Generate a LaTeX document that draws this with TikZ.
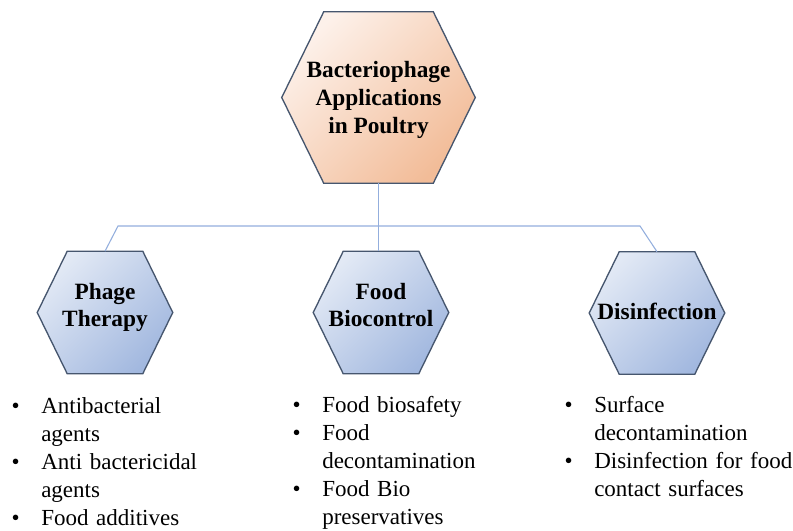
\documentclass[tikz,border=0pt]{standalone}
\usepackage{fontspec}
\setmainfont{Liberation Serif}
\usetikzlibrary{calc,backgrounds}

\definecolor{peachlight}{HTML}{FDF1EA}
\definecolor{peachdark}{HTML}{F2BC98}
\definecolor{bluelight}{HTML}{E2E9F5}
\definecolor{bluedark}{HTML}{A2B8DF}
\definecolor{hexline}{HTML}{46566E}
\definecolor{linkblue}{HTML}{93AEDD}

\tikzset{
  x=0.75pt, y=-0.75pt,
  hexnode/.style={inner sep=0pt, align=center, text=black},
  mainhex/.style={hexnode, minimum width=144.75pt, minimum height=128.25pt,
    font=\fontsize{17.5}{21}\selectfont\bfseries},
  subhex/.style={hexnode, minimum width=101.25pt, minimum height=91.5pt,
    font=\fontsize{17.5}{20.25}\selectfont\bfseries},
  hexshape/.style 2 args={insert path={
    (#1.west) -- ($(#1.north west)+(#2,0)$) -- ($(#1.north east)-(#2,0)$)
    -- (#1.east) -- ($(#1.south east)-(#2,0)$) -- ($(#1.south west)+(#2,0)$) -- cycle}},
  peachfill/.style={draw=hexline, line width=1pt,
    top color=peachlight, bottom color=peachdark, shading angle=45},
  bluefill/.style={draw=hexline, line width=1pt,
    top color=bluelight, bottom color=bluedark, shading angle=45},
  link/.style={draw=linkblue, line width=0.8pt},
  bullets/.style={anchor=north west, inner sep=0pt, text width=160pt, align=left,
    font=\fontsize{17.25}{21}\selectfont},
}

\newcommand{\bul}{\leavevmode\llap{\textbullet\hspace{16.2pt}}}

\begin{document}
\begin{tikzpicture}
  \useasboundingbox (0,0) rectangle (793,531);

  % hexagon holders with their titles
  \node[mainhex, text height=60pt, text depth=6.3pt] (top) at (378.5,97.5)
    {Bacteriophage\\Applications\\in Poultry};
  \node[subhex, text height=30pt, text depth=9.75pt] (pt) at (105,312.5)
    {Phage\\Therapy};
  \node[subhex, text height=30pt, text depth=9.75pt] (fb) at (381,312.5)
    {Food\\Biocontrol};
  \node[subhex, text height=12pt, text depth=1.5pt] (dis) at (657,313)
    {Disinfection};

  % hexagon outlines and gradient fills behind the titles
  \begin{scope}[on background layer]
    \shade[peachfill, hexshape={top}{42}];
    \shade[bluefill, hexshape={pt}{30}];
    \shade[bluefill, hexshape={fb}{30}];
    \shade[bluefill, hexshape={dis}{30}];
  \end{scope}

  % connectors
  \coordinate (jl) at (118,226);
  \coordinate (jr) at (640,226);
  \draw[link] (pt.north) -- (jl) -- (jr) -- (dis.north);
  \draw[link] (top.south) -- (top.south |- fb.north);

  % bullet lists
  \node[bullets] (l1) at (41,394)
    {\bul\strut Antibacterial\newline agents\par
     \bul Anti bactericidal\newline agents\par
     \bul Food additives};
  \node[bullets] (l2) at (322,393)
    {\bul\strut Food biosafety\par
     \bul Food\newline decontamination\par
     \bul Food Bio\newline preservatives};
  \node[bullets] (l3) at (594,393)
    {\bul\strut Surface\newline decontamination\par
     \bul Disinfection for food\newline contact surfaces};
\end{tikzpicture}
\end{document}
